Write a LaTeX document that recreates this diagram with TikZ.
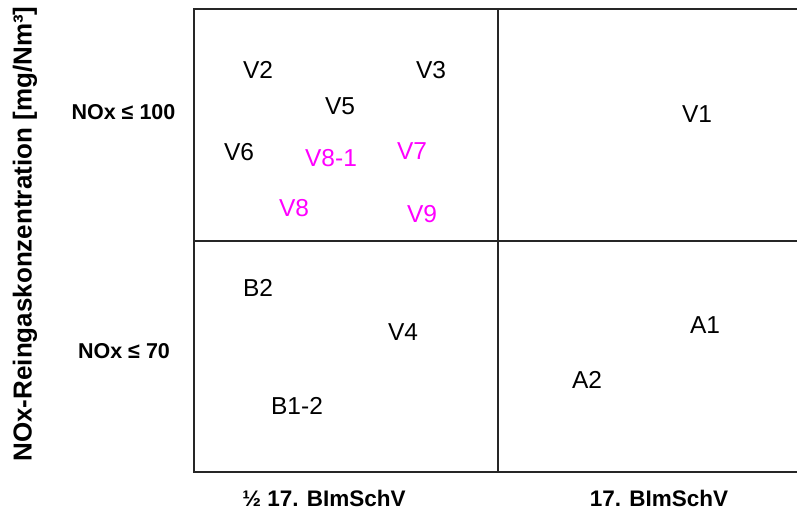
\documentclass[tikz,border=0pt]{standalone}
\usepackage{fontspec}
\setmainfont{Liberation Sans}
\definecolor{variant}{HTML}{FF00FF}
\begin{document}
\begin{tikzpicture}[x=1pt,y=-1pt,
  gridline/.style={draw=black!85,line width=1.3pt},
  entry/.style={font=\fontsize{24.5}{28}\selectfont,inner sep=0pt,anchor=center},
  hot/.style={entry,text=variant},
  axislabel/.style={font=\fontsize{21.5}{24}\selectfont\bfseries,inner sep=0pt,anchor=center},
  caselabel/.style={font=\fontsize{22.5}{25}\selectfont\bfseries,inner sep=0pt,anchor=center},
  axistitle/.style={font=\fontsize{26}{28}\selectfont\bfseries,inner sep=0pt,anchor=center,rotate=90}]
\useasboundingbox (0,0) rectangle (797,515);
% frame and quadrant dividers (open to the right)
\coordinate (tl) at (194,9);
\coordinate (bl) at (194,472);
\coordinate (tr) at (797,9);
\coordinate (br) at (797,472);
\coordinate (ml) at (194,241);
\coordinate (mr) at (797,241);
\coordinate (mt) at (498,9);
\coordinate (mb) at (498,472);
\draw[gridline] (tr) -- (tl) -- (bl) -- (br);
\draw[gridline] (ml) -- (mr);
\draw[gridline] (mt) -- (mb);
% upper left quadrant
\node[entry] (v2) at (258,70) {V2};
\node[entry] (v3) at (431,70) {V3};
\node[entry] (v5) at (340,106) {V5};
\node[entry] (v6) at (239,152) {V6};
\node[hot] (v81) at (331,158) {V8-1};
\node[hot] (v7) at (412,151) {V7};
\node[hot] (v8) at (294,208) {V8};
\node[hot] (v9) at (422,214) {V9};
% upper right quadrant
\node[entry] (v1) at (697,114) {V1};
% lower left quadrant
\node[entry] (b2) at (258,288) {B2};
\node[entry] (v4) at (403,332) {V4};
\node[entry] (b12) at (297,406) {B1-2};
% lower right quadrant
\node[entry] (a1) at (705,325) {A1};
\node[entry] (a2) at (587,380) {A2};
% axis labels
\node[axislabel] (y100) at (123.5,112) {NOx ≤ 100};
\node[axislabel] (y70) at (124,351) {NOx ≤ 70};
\node[caselabel] (xhalf) at (324,498) {½ 17. BImSchV};
\node[caselabel] (xfull) at (659,498) {17. BImSchV};
\node[axistitle] (ytitle) at (25,234) {NOx-Reingaskonzentration [mg/Nm³]};
\end{tikzpicture}
\end{document}
